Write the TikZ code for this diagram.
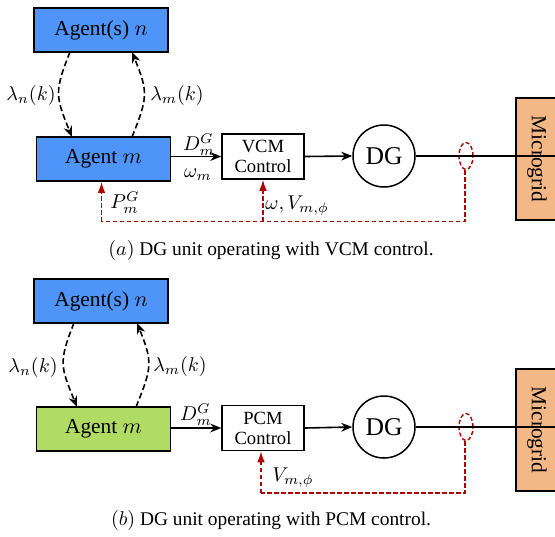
\documentclass[tikz,border=0pt]{standalone}
\usepackage{fontspec}
\setmainfont{Liberation Serif}
\usetikzlibrary{arrows.meta,shapes.geometric}
\definecolor{agblue}{RGB}{79,148,248}
\definecolor{aggreen}{RGB}{176,220,100}
\definecolor{mgorange}{RGB}{244,184,134}
\definecolor{fbred}{RGB}{176,0,0}
\begin{document}
\begin{tikzpicture}[x=0.5pt,y=-0.5pt,
  agent/.style={draw,line width=0.9pt,minimum width=67pt,minimum height=22pt,inner sep=0pt,font=\fontsize{10.7}{12}\selectfont},
  ctrl/.style={draw,line width=0.75pt,minimum width=41pt,minimum height=22.5pt,inner sep=0pt,align=center,font=\fontsize{9.3}{10}\selectfont},
  dgnode/.style={draw,circle,line width=0.75pt,minimum size=31pt,inner sep=0pt,font=\fontsize{12.8}{14}\selectfont},
  gridbox/.style={draw,line width=0.9pt,fill=mgorange,rotate=-90,minimum width=61pt,minimum height=21pt,inner sep=0pt,font=\fontsize{10.7}{12}\selectfont},
  sensor/.style={draw=fbred,ellipse,dash pattern=on 2pt off 1.2pt,line width=0.7pt,minimum width=7pt,minimum height=13.5pt,inner sep=0pt},
  sig/.style={line width=0.8pt,-{Stealth[length=5.5pt,width=4.4pt]}},
  msg/.style={line width=0.8pt,dash pattern=on 3pt off 1.6pt,-{Stealth[length=5.5pt,width=4.4pt]}},
  fb/.style={draw=fbred,line width=0.75pt,dash pattern=on 2.2pt off 1.3pt,-{Latex[length=5.5pt,width=3.8pt]}},
  fbline/.style={draw=fbred,line width=0.75pt,dash pattern=on 2.2pt off 1.3pt},
  lbl/.style={font=\fontsize{9.6}{11}\selectfont,inner sep=0pt},
  captext/.style={font=\fontsize{9.7}{11}\selectfont,inner sep=0pt}
]
\useasboundingbox (0,0) rectangle (555,536);
\clip (0,0) rectangle (555,536);

% ---------- panel (a) ----------
\node[agent,fill=agblue] (an) at (101,30) {Agent(s) $n$};
\node[agent,fill=agblue] (am) at (103.5,159) {Agent $m$};
\node[ctrl] (vcm) at (263,156.5) {VCM\\Control};
\node[dgnode] (dga) at (384,156) {DG};
\node[gridbox] (mga) at (537,159) {Microgrid};
\node[sensor] (ea) at (466,156) {};

\coordinate (an1) at (70,52);
\coordinate (am1) at (72,137);
\coordinate (am2) at (132,137);
\coordinate (an2) at (132,52);
\draw[msg] (an1) to[out=-112,in=112,looseness=1.3] (am1);
\draw[msg] (am2) to[out=68,in=-68,looseness=1.3] (an2);
\node[lbl] (la1) at (31,95) {$\lambda_n(k)$};
\node[lbl] (la2) at (177,95) {$\lambda_m(k)$};

\draw[sig] (am.east |- vcm.west) -- (vcm.west);
\node[lbl] (dma) at (199,145) {$D_m^G$};
\node[lbl] (wma) at (198,175) {$\omega_m$};
\draw[sig] (vcm.east) -- (dga.west);
\draw[line width=0.8pt] (dga.east) -- (dga.east -| mga.north);

\coordinate (ca1) at (465,221.5);
\coordinate (ca2) at (101.5,221.5);
\draw[fbline] (ea.south -| ca1) -- (ca1) -- (ca2);
\draw[fb] (ca2) -- (ca2 |- am.south);
\draw[fb] (vcm.south |- ca2) -- (vcm.south);
\node[lbl] (pma) at (125,203) {$P_m^G$};
\node[lbl] (wva) at (297,206) {$\omega,V_{m,\phi}$};

\node[captext] (capa) at (271,250) {$(a)$ DG unit operating with VCM control.};

% ---------- panel (b) ----------
\node[agent,fill=agblue] (bn) at (101,301) {Agent(s) $n$};
\node[agent,fill=aggreen] (bm) at (103.5,429) {Agent $m$};
\node[ctrl] (pcm) at (263,428) {PCM\\Control};
\node[dgnode] (dgb) at (384,427) {DG};
\node[gridbox] (mgb) at (537,430) {Microgrid};
\node[sensor] (eb) at (466,427) {};

\coordinate (bn1) at (74,323);
\coordinate (bm1) at (77,407);
\coordinate (bm2) at (136,407);
\coordinate (bn2) at (137,323);
\draw[msg] (bn1) to[out=-112,in=112,looseness=1.3] (bm1);
\draw[msg] (bm2) to[out=68,in=-68,looseness=1.3] (bn2);
\node[lbl] (lb1) at (33,367) {$\lambda_n(k)$};
\node[lbl] (lb2) at (180,366) {$\lambda_m(k)$};

\draw[sig] (bm.east |- pcm.west) -- (pcm.west);
\node[lbl] (dmb) at (196,415) {$D_m^G$};
\draw[sig] (pcm.east) -- (dgb.west);
\draw[line width=0.8pt] (dgb.east) -- (dgb.east -| mgb.north);

\coordinate (cb1) at (465,493);
\coordinate (cb2) at (261,493);
\draw[fbline] (eb.south -| cb1) -- (cb1) -- (cb2);
\draw[fb] (cb2) -- (cb2 |- pcm.south);
\node[lbl] (vb) at (293,478) {$V_{m,\phi}$};

\node[captext] (capb) at (271,520) {$(b)$ DG unit operating with PCM control.};
\end{tikzpicture}
\end{document}
